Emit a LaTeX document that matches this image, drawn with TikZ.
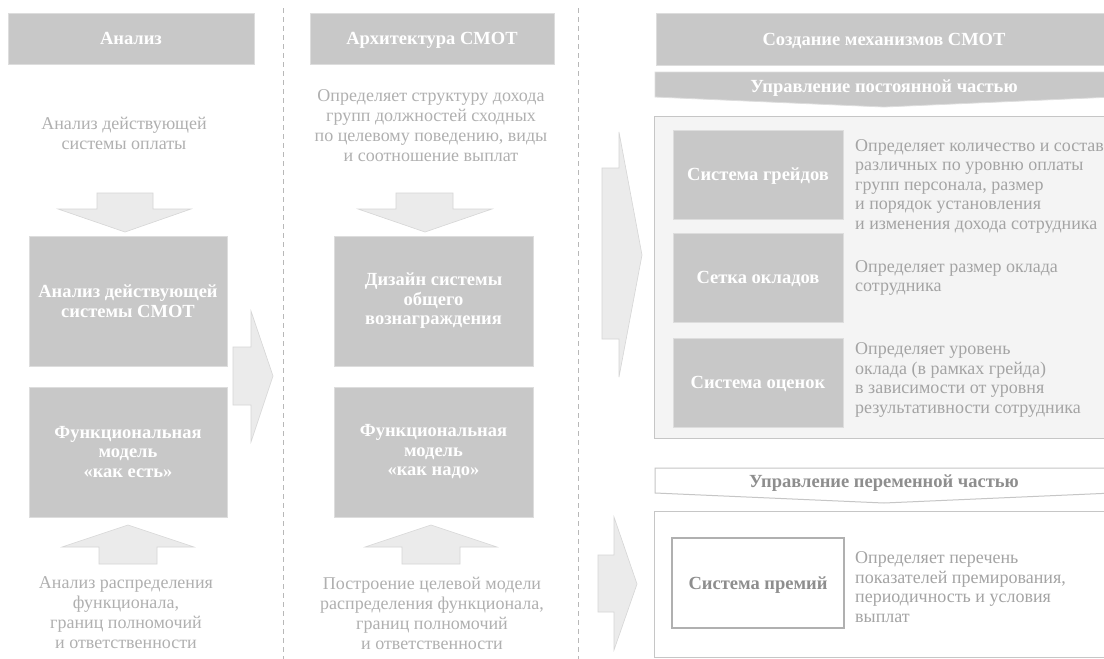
\documentclass[tikz,border=0pt]{standalone}
\usepackage{fontspec}
\setmainfont{Liberation Serif}
\definecolor{hdr}{HTML}{C8C8C8}
\definecolor{hdrl}{HTML}{DDDDDD}
\definecolor{txt}{HTML}{B0B0B0}
\definecolor{txtd}{HTML}{A4A4A4}
\definecolor{arr}{HTML}{EBEBEB}
\definecolor{arrl}{HTML}{D6D6D6}
\definecolor{panel}{HTML}{F4F4F4}
\definecolor{panell}{HTML}{C6C6C6}
\definecolor{dashc}{HTML}{B8B8B8}
\definecolor{dark}{HTML}{8E8E8E}
\tikzset{
  hbox/.style={fill=hdr, draw=hdrl, line width=0.8pt, text=white, align=center, inner sep=0pt,
    font=\bfseries\fontsize{18.5}{19.5}\selectfont},
  oneline/.style={text height=15.2pt, text depth=3pt},
  ltxt/.style={text=txt, align=center, inner sep=0pt, font=\fontsize{18}{20}\selectfont},
  rtxt/.style={text=txtd, align=left, anchor=west, inner sep=0pt, font=\fontsize{18}{19.5}\selectfont},
  arrowst/.style={fill=arr, draw=arrl, line width=0.6pt, line join=miter},
  dashline/.style={draw=dashc, line width=1pt, dash pattern=on 5pt off 4pt},
  panelst/.style={fill=panel, draw=panell, line width=1pt},
}
\begin{document}
\begin{tikzpicture}[x=1pt, y=-1pt]
\useasboundingbox (0,0) rectangle (1104,659);
\clip (0,0) rectangle (1104,659);
\fill[white] (0,0) rectangle (1104,659);

% dashed separators
\draw[dashline] (283,8) -- (283,659);
\draw[dashline] (578,8) -- (578,659);

% ---------- column 1 ----------
\node[hbox, oneline, minimum width=246pt, minimum height=51pt] (h1) at (131,38.5) {Анализ};
\node[ltxt] (t1) at (124,133) {Анализ действующей\\системы оплаты};
\draw[arrowst] (97,193) -- (153,193) -- (153,209) -- (191,209) -- (125,232) -- (58,209) -- (97,209) -- cycle;
\node[hbox, minimum width=198pt, minimum height=130pt] (b11) at (128,301) {Анализ действующей\\системы СМОТ};
\node[hbox, minimum width=198pt, minimum height=130pt] (b12) at (128,452) {Функциональная\\модель\\«как есть»};
\draw[arrowst] (128,525) -- (194,547) -- (157,547) -- (157,564) -- (99,564) -- (99,547) -- (62,547) -- cycle;
\node[ltxt] (t12) at (126,613) {Анализ распределения\\функционала,\\границ полномочий\\и ответственности};

% arrow col1 -> col2
\draw[arrowst] (233,347) -- (251,347) -- (251,311) -- (273,376) -- (251,442) -- (251,405) -- (233,405) -- cycle;

% ---------- column 2 ----------
\node[hbox, oneline, minimum width=244pt, minimum height=51pt] (h2) at (432,38.5) {Архитектура СМОТ};
\node[ltxt] (t2) at (431,126) {Определяет структуру дохода\\групп должностей сходных\\по целевому поведению, виды\\и соотношение выплат};
\draw[arrowst] (396,193) -- (453,193) -- (453,209) -- (492,209) -- (425,232) -- (358,209) -- (396,209) -- cycle;
\node[hbox, minimum width=199pt, minimum height=130pt] (b21) at (433.5,301) {Дизайн системы\\общего\\вознаграждения};
\node[hbox, minimum width=199pt, minimum height=130pt] (b22) at (433.5,452) {Функциональная\\модель\\«как надо»};
\draw[arrowst] (431,525) -- (497,547) -- (460,547) -- (460,564) -- (402,564) -- (402,547) -- (365,547) -- cycle;
\node[ltxt] (t22) at (432,613) {Построение целевой модели\\распределения функционала,\\границ полномочий\\и ответственности};

% arrows col2 -> col3
\draw[arrowst] (602,168) -- (619,168) -- (619,132) -- (642,255) -- (619,377) -- (619,339) -- (602,339) -- cycle;
\draw[arrowst] (598,555) -- (614,555) -- (614,517) -- (637,584) -- (614,650) -- (614,612) -- (598,612) -- cycle;

% ---------- column 3 ----------
\node[hbox, oneline, minimum width=456pt, minimum height=52pt] (h3) at (884,39) {Создание механизмов СМОТ};
\draw[fill=hdr, draw=hdrl, line width=0.8pt] (655,72) -- (1113,72) -- (1113,97) -- (884,107) -- (655,97) -- cycle;
\node[oneline, text=white, font=\bfseries\fontsize{18.5}{19.5}\selectfont, inner sep=0pt] (u1) at (884,86) {Управление постоянной частью};

\draw[panelst] (654,116) rectangle (1113,438);
\node[hbox, oneline, minimum width=170pt, minimum height=89pt] (s1) at (758,174.5) {Система грейдов};
\node[rtxt] (d1) at (855,186) {Определяет количество и состав\\различных по уровню оплаты\\групп персонала, размер\\и порядок установления\\и изменения дохода сотрудника};
\node[hbox, oneline, minimum width=170pt, minimum height=89pt] (s2) at (758,277.5) {Сетка окладов};
\node[rtxt] (d2) at (855,278) {Определяет размер оклада\\сотрудника};
\node[hbox, oneline, minimum width=170pt, minimum height=89pt] (s3) at (758,382.5) {Система оценок};
\node[rtxt] (d3) at (855,380) {Определяет уровень\\оклада (в рамках грейда)\\в зависимости от уровня\\результативности сотрудника};

\draw[fill=white, draw=panell, line width=1pt] (655,468) -- (1113,468) -- (1113,493) -- (884,503) -- (655,493) -- cycle;
\node[oneline, text=dark, font=\bfseries\fontsize{18.5}{19.5}\selectfont, inner sep=0pt] (u2) at (884,481) {Управление переменной частью};

\draw[fill=white, draw=panell, line width=1pt] (654,511) rectangle (1113,657);
\node[oneline, draw=txt, line width=1.5pt, fill=white, text=dark, font=\bfseries\fontsize{18.5}{19.5}\selectfont,
  minimum width=172pt, minimum height=90pt, inner sep=0pt] (s4) at (758,583) {Система премий};
\node[rtxt] (d4) at (855,587) {Определяет перечень\\показателей премирования,\\периодичность и условия\\выплат};
\end{tikzpicture}
\end{document}
